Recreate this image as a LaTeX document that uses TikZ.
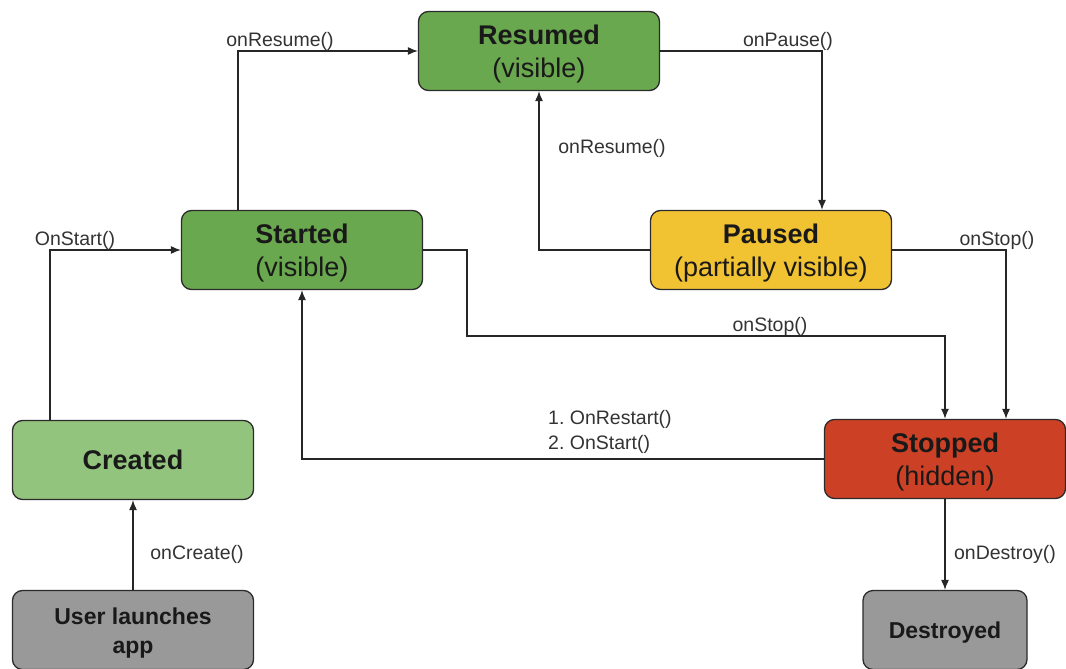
\documentclass[tikz,border=0pt]{standalone}
\usepackage{fontspec}
\setmainfont{Liberation Sans}
\usetikzlibrary{arrows.meta}
\definecolor{gdark}{HTML}{6AA84F}
\definecolor{glight}{HTML}{93C47D}
\definecolor{yel}{HTML}{F1C232}
\definecolor{redc}{HTML}{CC4125}
\definecolor{grayc}{HTML}{999999}
\definecolor{edge}{HTML}{2B2B2B}
\definecolor{lbl}{HTML}{333333}
\newcommand{\stxt}[1]{\raisebox{-3pt}[\height][\depth]{\begin{tabular}{@{}c@{}}#1\end{tabular}}}
\tikzset{
  state/.style={draw=edge, line width=1.3pt, rounded corners=10pt, minimum width=241pt, minimum height=79pt, inner sep=0pt, font=\fontsize{27}{33}\selectfont, text=black!90},
  endbox/.style={state, font=\fontsize{23}{29}\selectfont\bfseries},
  arr/.style={draw=black!85, line width=1.1pt, -{Latex[length=10pt,width=8pt]}},
  lab/.style={font=\fontsize{19.5}{25.5}\selectfont, text=lbl, inner sep=0pt, align=left}
}
\begin{document}
\begin{tikzpicture}[x=1pt,y=-1pt]
\useasboundingbox (0,0) rectangle (1066,669);
\node[state, fill=gdark] (resumed) at (539,51) {\stxt{\textbf{Resumed}\\(visible)}};
\node[state, fill=gdark] (started) at (302,250) {\stxt{\textbf{Started}\\(visible)}};
\node[state, fill=yel] (paused) at (771,250) {\stxt{\textbf{Paused}\\(partially visible)}};
\node[state, fill=glight] (created) at (133,460) {\stxt{\textbf{Created}}};
\node[state, fill=redc] (stopped) at (945,459) {\stxt{\textbf{Stopped}\\(hidden)}};
\node[endbox, fill=grayc] (user) at (133,630) {\stxt{User launches\\app}};
\node[endbox, fill=grayc, minimum width=164pt] (destroyed) at (945,630) {\stxt{Destroyed}};

\coordinate (c1) at (467,336);

\draw[arr] ([xshift=-64pt]started.north) |- (resumed.west);
\draw[arr] (resumed.east) -| ([xshift=51pt]paused.north);
\draw[arr] (paused.west) -| (resumed.south);
\draw[arr] ([xshift=-83pt]created.north) |- (started.west);
\draw[arr] (user.north) -- (created.south);
\draw[arr, line width=1.5pt] (started.east) -| (c1) -| (stopped.north);
\draw[arr] (paused.east) -| ([xshift=61pt]stopped.north);
\draw[arr] (stopped.west) -| (started.south);
\draw[arr] (stopped.south) -- (destroyed.north);

\node[lab] (l1) at (280,41) {onResume()};
\node[lab] (l2) at (788,41) {onPause()};
\node[lab] (l3) at (612,148) {onResume()};
\node[lab] (l4) at (75,240) {OnStart()};
\node[lab] (l5) at (997,240) {onStop()};
\node[lab] (l6) at (770,326) {onStop()};
\node[lab, anchor=west] (l7) at (548,432) {1.\ OnRestart()\\2.\ OnStart()};
\node[lab] (l8) at (197,554) {onCreate()};
\node[lab] (l9) at (1005,554) {onDestroy()};
\end{tikzpicture}
\end{document}
